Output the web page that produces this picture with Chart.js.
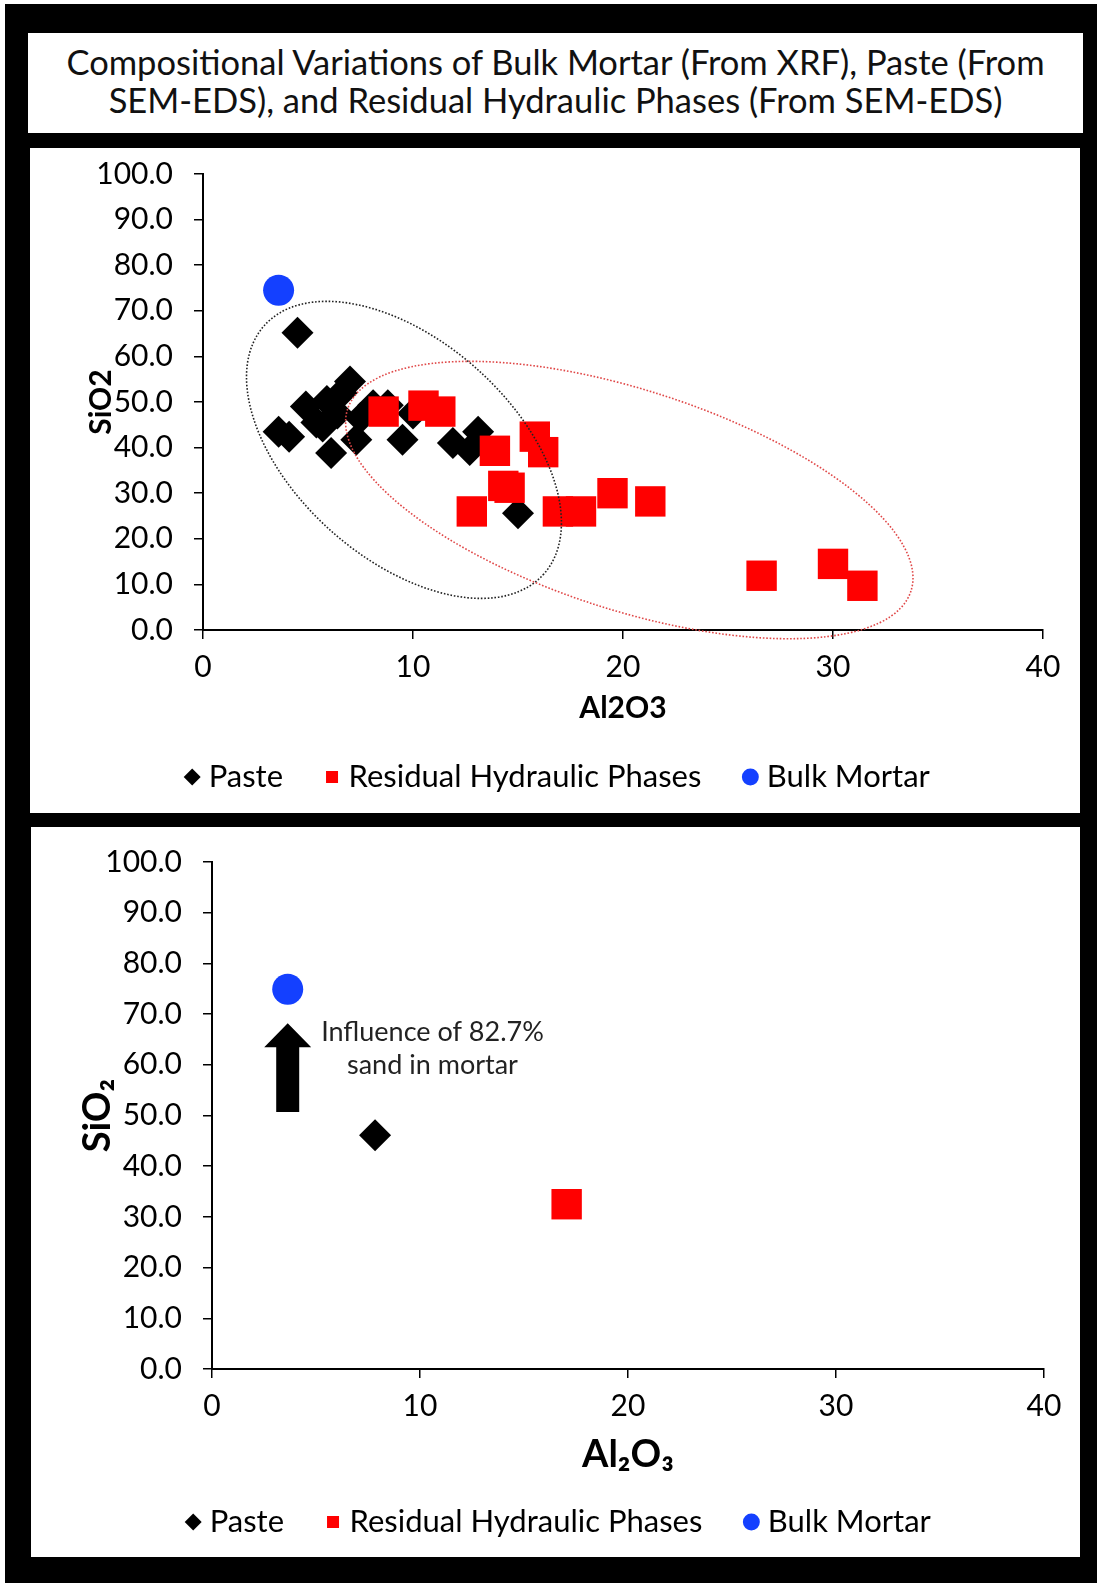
<!DOCTYPE html>
<html>
<head>
<meta charset="utf-8">
<script src="https://cdn.jsdelivr.net/npm/chart.js@4.4.1/dist/chart.umd.min.js"></script>
<style>
  html, body { margin: 0; padding: 0; background: #fff; }
  body { position: relative; width: 1097px; height: 1583px; overflow: hidden; }
  #frame { position: absolute; left: 5px; top: 4px; width: 1092px; height: 1579px; background: #000; }
  .box { position: absolute; background: #fff; }
  #title {
    left: 28px; top: 33px; width: 1055px; height: 100px;
    box-sizing: border-box; padding-top: 10px;
    font-family: Lato, sans-serif; font-size: 34.5px; line-height: 38px;
    color: #111; text-align: center;
  }
  #panel1 { left: 30px; top: 148px; width: 1050px; height: 665px; }
  #panel2 { left: 31px; top: 827px; width: 1049px; height: 730px; }
  canvas { display: block; }
</style>
</head>
<body>
<div id="frame"></div>
<div id="title" class="box">Compositional Variations of Bulk Mortar (From XRF), Paste (From<br>SEM-EDS), and Residual Hydraulic Phases (From SEM-EDS)</div>
<div id="panel1" class="box"><canvas id="scatterAll" width="1050" height="665"></canvas></div>
<div id="panel2" class="box"><canvas id="scatterMean" width="1049" height="730"></canvas></div>

<script>
// axis ticks
const xTickValues = [0, 10, 20, 30, 40];
const yTickValues = [0, 10, 20, 30, 40, 50, 60, 70, 80, 90, 100];

// paste analyses (SEM-EDS)
const pasteAl2O3 = [3.6, 4.1, 4.5, 4.9, 5.4, 5.7, 5.9, 6.1, 6.4, 6.6, 7.0, 7.3, 7.5, 8.1, 8.8, 9.5, 10.0, 11.9, 12.7, 13.1, 15.0];
const pasteSiO2  = [43.5, 42.4, 65.2, 49.0, 45.5, 44.6, 50.2, 38.8, 47.5, 52.0, 54.5, 41.7, 46.5, 49.3, 49.3, 41.7, 47.5, 41.0, 39.5, 43.5, 25.6];

// residual hydraulic phases (SEM-EDS)
const residualAl2O3 = [8.6, 10.5, 11.3, 13.9, 14.3, 14.6, 15.8, 16.2, 12.8, 16.9, 18.0, 19.5, 21.3, 26.6, 30.0, 31.4];
const residualSiO2  = [47.9, 49.2, 47.9, 39.3, 31.6, 31.2, 42.4, 39.0, 26.0, 26.0, 26.0, 30.0, 28.2, 11.9, 14.5, 9.7];

// bulk mortar (XRF)
const bulkAl2O3 = [3.6];
const bulkSiO2  = [74.5];

// averages for the lower chart
const meanPasteAl2O3 = [7.84];
const meanPasteSiO2  = [46.1];
const meanResidualAl2O3 = [17.05];
const meanResidualSiO2  = [32.5];
const meanBulkAl2O3 = [3.64];
const meanBulkSiO2  = [74.9];

const FONT = 'Lato, sans-serif';
const RED = '#ff0000';
const BLUE = '#1440ff';

// dotted group outlines: centre in data units, radii in px, tilt in degrees
const groupOutlines = [
  { cx: 9.57, cy: 39.5, rx: 187, ry: 109, tilt: 41.6, color: '#222' },
  { cx: 20.3, cy: 28.5, rx: 296, ry: 110, tilt: 17.9, color: '#e04848' }
];

const toPoints = (xs, ys) => xs.map((x, i) => ({ x: x, y: ys[i] }));

function datasets(paste, residual, bulk) {
  // listed in reverse so Paste is drawn underneath; legend is reversed back
  return [
    { label: 'Bulk Mortar', data: bulk, pointStyle: 'circle', pointRadius: 15.5,
      backgroundColor: BLUE, borderWidth: 0 },
    { label: 'Residual Hydraulic Phases', data: residual, pointStyle: 'rect', pointRadius: 21.5,
      backgroundColor: RED, borderWidth: 0 },
    { label: 'Paste', data: paste, pointStyle: 'rectRot', pointRadius: 16,
      backgroundColor: '#000', borderWidth: 0 }
  ];
}

const outlinePlugin = {
  id: 'outlines',
  afterDatasetsDraw(chart) {
    const ctx = chart.ctx, xs = chart.scales.x, ys = chart.scales.y;
    groupOutlines.forEach(o => {
      ctx.save();
      ctx.strokeStyle = o.color;
      ctx.lineWidth = 1.6;
      ctx.setLineDash([1.6, 1.8]);
      ctx.beginPath();
      ctx.ellipse(xs.getPixelForValue(o.cx), ys.getPixelForValue(o.cy), o.rx, o.ry,
        o.tilt * Math.PI / 180, 0, Math.PI * 2);
      ctx.stroke();
      ctx.restore();
    });
  }
};

// nudge the legend row a little to the right
const legendShift = {
  id: 'legendShift',
  afterLayout(chart) {
    chart.legend.left += 24;
    chart.legend.right += 24;
  }
};

// arrow + note on the averages chart
const sandNote = { x: 3.64, yFrom: 50.7, yTo: 68.2, textX: 10.6, line1Y: 66.5, line2Y: 59.9 };
const notePlugin = {
  id: 'sandNote',
  afterDatasetsDraw(chart) {
    const ctx = chart.ctx, xs = chart.scales.x, ys = chart.scales.y;
    const x = xs.getPixelForValue(sandNote.x);
    const yb = ys.getPixelForValue(sandNote.yFrom);
    const yt = ys.getPixelForValue(sandNote.yTo);
    const head = 24, shaft = 11.5, wing = 23.5;
    ctx.save();
    ctx.fillStyle = '#000';
    ctx.beginPath();
    ctx.moveTo(x - shaft, yb);
    ctx.lineTo(x - shaft, yt + head);
    ctx.lineTo(x - wing, yt + head);
    ctx.lineTo(x, yt);
    ctx.lineTo(x + wing, yt + head);
    ctx.lineTo(x + shaft, yt + head);
    ctx.lineTo(x + shaft, yb);
    ctx.closePath();
    ctx.fill();
    ctx.fillStyle = '#222';
    ctx.font = '27px ' + FONT;
    ctx.textAlign = 'center';
    ctx.textBaseline = 'middle';
    const tx = xs.getPixelForValue(sandNote.textX);
    ctx.fillText('Influence of 82.7%', tx, ys.getPixelForValue(sandNote.line1Y));
    ctx.fillText('sand in mortar', tx, ys.getPixelForValue(sandNote.line2Y));
    ctx.restore();
  }
};

function makeChart(id, cfg) {
  const canvas = document.getElementById(id);
  return new Chart(canvas, {
    type: 'scatter',
    data: { datasets: cfg.datasets },
    plugins: cfg.plugins.concat([legendShift]),
    options: {
      responsive: false,
      animation: false,
      events: [],
      layout: { padding: { top: cfg.top, right: cfg.right, left: 0, bottom: cfg.bottom } },
      plugins: {
        tooltip: { enabled: false },
        legend: {
          position: 'bottom',
          reverse: true,
          labels: {
            usePointStyle: true, boxHeight: 12, boxWidth: 2, padding: 48,
            font: { family: FONT, size: 31 }, color: '#000'
          }
        }
      },
      scales: {
        x: {
          type: 'linear', min: 0, max: 40,
          afterBuildTicks: s => { s.ticks = xTickValues.map(v => ({ value: v })); },
          ticks: { font: { family: FONT, size: 30 }, color: '#000', padding: 10 },
          grid: { drawOnChartArea: false, drawTicks: true, tickLength: 9, color: '#000', lineWidth: 1.5 },
          border: { display: true, color: '#000', width: 2 },
          title: { display: true, text: cfg.xTitle, color: '#000',
            font: { family: FONT, size: cfg.titleSize, weight: 'bold' }, padding: { top: 0, bottom: cfg.xTitlePad } },
          afterFit: s => { s.height = canvas.height - cfg.bottom - s.chart.legend.height - cfg.axisY; }
        },
        y: {
          type: 'linear', min: 0, max: 100,
          afterBuildTicks: s => { s.ticks = yTickValues.map(v => ({ value: v })); },
          ticks: { font: { family: FONT, size: 30 }, color: '#000', padding: 21,
            callback: v => v.toFixed(1) },
          grid: { drawOnChartArea: false, drawTicks: true, tickLength: 9, color: '#000', lineWidth: 1.5 },
          border: { display: true, color: '#000', width: 2 },
          title: { display: true, text: cfg.yTitle, color: '#000',
            font: { family: FONT, size: cfg.titleSize, weight: 'bold' }, padding: { top: cfg.yTitlePad, bottom: 0 } },
          afterFit: s => {
            s.width = cfg.left;
            // keep the label gap from pushing the plot area down
            s.paddingTop = 18;
            s.paddingBottom = 18;
          }
        }
      }
    }
  });
}

makeChart('scatterAll', {
  datasets: datasets(toPoints(pasteAl2O3, pasteSiO2), toPoints(residualAl2O3, residualSiO2), toPoints(bulkAl2O3, bulkSiO2)),
  plugins: [outlinePlugin],
  left: 173, top: 26, right: 37, bottom: 10.5, axisY: 482,
  xTitle: 'Al2O3', yTitle: 'SiO2', titleSize: 30, xTitlePad: -13, yTitlePad: 53
});

makeChart('scatterMean', {
  datasets: datasets(toPoints(meanPasteAl2O3, meanPasteSiO2), toPoints(meanResidualAl2O3, meanResidualSiO2), toPoints(meanBulkAl2O3, meanBulkSiO2)),
  plugins: [notePlugin],
  left: 181, top: 35, right: 36, bottom: 9.5, axisY: 542,
  xTitle: 'Al\u2082O\u2083', yTitle: 'SiO\u2082', titleSize: 38, xTitlePad: -19, yTitlePad: 44
});
</script>
</body>
</html>
